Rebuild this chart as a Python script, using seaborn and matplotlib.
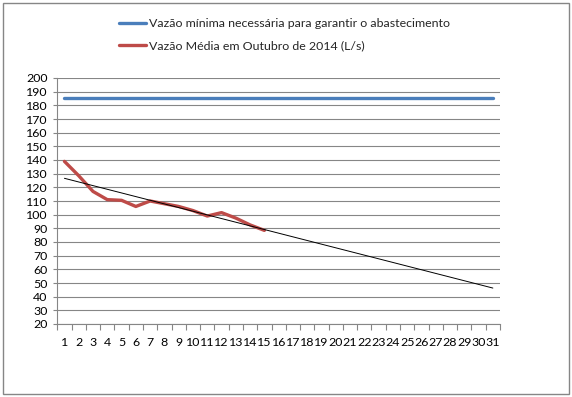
import numpy as np
import pandas as pd
import matplotlib
matplotlib.use("Agg")
import matplotlib.pyplot as plt
import seaborn as sns
from matplotlib.lines import Line2D
from matplotlib.patches import Rectangle

# ---- data ----
days = list(range(1, 32))
vazao_minima = [185] * 31
dias_medidos = list(range(1, 16))
vazao_media = [139, 128.5, 117, 111, 110.5, 106, 110, 108, 106, 103, 99, 101.5, 97.5, 92.5, 88.5]
y_ticks = list(range(20, 201, 10))

label_min = "Vazão mínima necessária para garantir o abastecimento"
label_med = "Vazão Média em Outubro de 2014 (L/s)"

blue = "#4a7ebb"
red = "#be4b48"
grid = "#868686"

sns.set_theme(style="white")
plt.rcParams["font.family"] = ["Lato", "DejaVu Sans"]

fig = plt.figure(figsize=(5.72, 3.97), dpi=100)
ax = fig.add_axes([57.3 / 572, 1 - 324 / 397, (500 - 57.3) / 572, (324 - 78) / 397])

df_min = pd.DataFrame({"dia": days, "vazao": vazao_minima})
df_med = pd.DataFrame({"dia": dias_medidos, "vazao": vazao_media})

# linear trendline fitted on measured data, extended over the month
coef = np.polyfit(dias_medidos, vazao_media, 1)
trend = np.polyval(coef, days)
df_trend = pd.DataFrame({"dia": days, "vazao": trend})

sns.lineplot(data=df_min, x="dia", y="vazao", ax=ax, color=blue, linewidth=2.4, zorder=3)
sns.lineplot(data=df_med, x="dia", y="vazao", ax=ax, color=red, linewidth=2.4, zorder=4)
sns.lineplot(data=df_trend, x="dia", y="vazao", ax=ax, color="black", linewidth=0.7, zorder=5)

ax.set_xlim(0.5, 31.5)
ax.set_ylim(20, 200)
ax.set_yticks(y_ticks)
ax.set_xticks(days)
ax.set_xticklabels([str(d) for d in days])
ax.set_xticks(np.arange(0.5, 32, 1), minor=True)
ax.set_xlabel("")
ax.set_ylabel("")

ax.yaxis.grid(True, color=grid, linewidth=0.8)
ax.set_axisbelow(True)
for s in ["top", "right"]:
    ax.spines[s].set_visible(False)
for s in ["left", "bottom"]:
    ax.spines[s].set_color(grid)
    ax.spines[s].set_linewidth(0.8)

ax.tick_params(axis="x", which="major", length=0, pad=9, labelsize=8.9, colors="black")
ax.tick_params(axis="x", which="minor", length=4, width=0.8, color=grid, direction="out", bottom=True)
ax.tick_params(axis="y", which="major", length=3, width=0.8, color=grid, direction="out", left=True,
               labelsize=8.9, pad=4, labelcolor="black")

handles = [Line2D([], [], color=blue, linewidth=2.4), Line2D([], [], color=red, linewidth=2.4)]
fig.legend(handles, [label_min, label_med], loc="upper left",
           bbox_to_anchor=(114 / 572, 1 - 13 / 397), frameon=False,
           fontsize=8.9, handlelength=2.2, handletextpad=0.2, labelspacing=0.95,
           borderaxespad=0)

fig.patches.append(Rectangle((2.5 / 572, 1 - 394 / 397), (569 - 2.5) / 572, (394 - 2.5) / 397,
                             transform=fig.transFigure, fill=False, edgecolor=grid, linewidth=1.0))

fig.savefig("out.png", dpi=100, facecolor="white")
